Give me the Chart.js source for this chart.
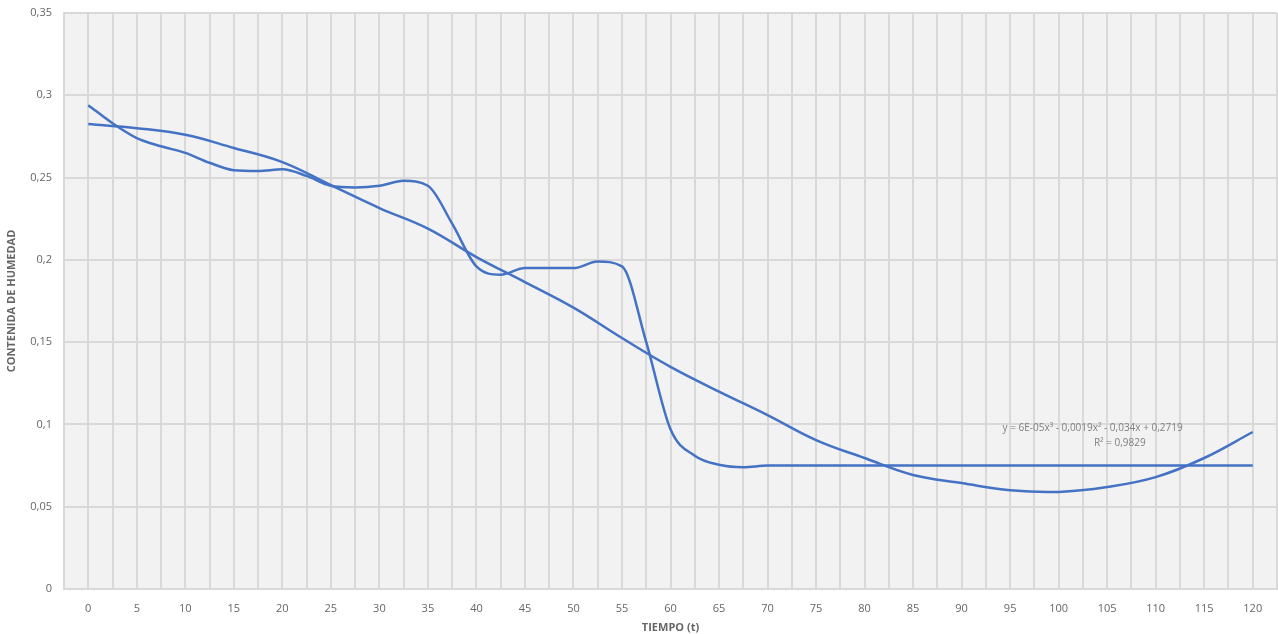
<!DOCTYPE html>
<html>
<head>
<meta charset="utf-8">
<script src="https://cdn.jsdelivr.net/npm/chart.js@4"></script>
<style>
  html, body { margin: 0; padding: 0; background: #fff; }
  #wrap { width: 1278px; height: 634px; }
</style>
</head>
<body>
<div id="wrap"><canvas id="myChart"></canvas></div>
<script>
// datos medidos (tiempo, contenido de humedad)
const tiempos = [0, 2.5, 5, 7.5, 10, 12.5, 15, 17.5, 20, 22.5, 25, 27.5, 30, 32.5, 35, 37.5, 40, 42.5,
  45, 47.5, 50, 52.5, 55, 57.5, 60, 62.5, 65, 67.5, 70, 75, 80, 85, 90, 95, 100, 105, 110, 115, 120];
const humedad = [0.294, 0.283, 0.274, 0.269, 0.265, 0.259, 0.2545, 0.254, 0.255, 0.251, 0.245, 0.244, 0.245, 0.248, 0.245, 0.222, 0.196, 0.191,
  0.195, 0.195, 0.195, 0.199, 0.196, 0.150, 0.097, 0.081, 0.0755, 0.074, 0.075, 0.075, 0.075, 0.075, 0.075, 0.075, 0.075, 0.075, 0.075, 0.075, 0.075];

// linea de tendencia polinomica
const tiemposTend = [0, 5, 10, 15, 20, 25, 30, 35, 40, 45, 50, 55, 60, 65, 70, 75, 80, 85, 90, 95, 100, 105, 110, 115, 120];
const tendencia = [0.2825, 0.280, 0.276, 0.268, 0.2594, 0.2454, 0.2315, 0.219, 0.2017, 0.1865, 0.171, 0.1525, 0.135, 0.120, 0.1057,
  0.0905, 0.0796, 0.0693, 0.0644, 0.060, 0.059, 0.062, 0.068, 0.0796, 0.0954];

const ecuacion = "y = 6E-05x³ - 0,0019x² - 0,034x + 0,2719";
const r2 = "R² = 0,9829";

const azul = "#4472C4";
const gris = "#D9D9D9";
const texto = "#666666";
const fuente = "'Open Sans', sans-serif";

const fondoPlot = {
  id: 'fondoPlot',
  beforeDraw(chart) {
    const a = chart.chartArea;
    const ctx = chart.ctx;
    ctx.save();
    ctx.fillStyle = "#F2F2F2";
    ctx.fillRect(a.left, a.top, a.right - a.left, a.bottom - a.top);
    ctx.restore();
  },
  afterDatasetsDraw(chart) {
    const ctx = chart.ctx;
    const sx = chart.scales.x, sy = chart.scales.y;
    ctx.save();
    ctx.fillStyle = "#808080";
    ctx.font = "10px " + fuente;
    ctx.textAlign = "center";
    ctx.textBaseline = "middle";
    ctx.fillText(ecuacion, sx.getPixelForValue(103.5), sy.getPixelForValue(0.0978));
    ctx.fillText(r2, sx.getPixelForValue(106.3), sy.getPixelForValue(0.0887));
    ctx.restore();
  }
};

new Chart("myChart", {
  type: "line",
  data: {
    datasets: [{
      data: tiempos.map((t, i) => ({ x: t, y: humedad[i] })),
      borderColor: azul,
      borderWidth: 2.5,
      pointRadius: 0,
      cubicInterpolationMode: 'monotone'
    }, {
      data: tiemposTend.map((t, i) => ({ x: t, y: tendencia[i] })),
      borderColor: azul,
      borderWidth: 2.5,
      pointRadius: 0,
      tension: 0.4
    }]
  },
  options: {
    responsive: true,
    maintainAspectRatio: false,
    animation: false,
    layout: { padding: { top: 13, right: 1, left: 0, bottom: 0 } },
    plugins: { legend: { display: false }, tooltip: { enabled: false } },
    scales: {
      x: {
        type: 'linear',
        min: -2.5,
        max: 122.5,
        grid: { color: gris, lineWidth: 2, drawTicks: false },
        border: { color: gris, width: 2 },
        ticks: {
          stepSize: 2.5,
          autoSkip: false,
          maxRotation: 0,
          padding: 13,
          color: texto,
          font: { size: 11, family: fuente },
          callback: (v) => (v >= 0 && v <= 120 && Math.abs(v % 5) < 1e-6) ? String(Math.round(v)) : ''
        },
        title: {
          display: true,
          text: "TIEMPO (t)",
          color: texto,
          font: { size: 11, weight: 'bold', family: fuente },
          padding: { top: 0, bottom: 0 }
        },
        afterFit(scale) {
          scale.height = 45;
          scale.paddingLeft = 0;
          scale.paddingRight = 0;
        }
      },
      y: {
        min: 0,
        max: 0.35,
        grid: { color: gris, lineWidth: 2, drawTicks: false },
        border: { color: gris, width: 2 },
        ticks: {
          stepSize: 0.05,
          padding: 12,
          color: texto,
          font: { size: 11, family: fuente },
          callback: (v) => String(Number(v.toFixed(2))).replace('.', ',')
        },
        title: {
          display: true,
          text: "CONTENIDA DE HUMEDAD",
          color: texto,
          font: { size: 11, weight: 'bold', family: fuente },
          padding: { top: 5, bottom: 0 }
        },
        afterFit(scale) {
          scale.width = 64;
          scale.paddingTop = 0;
          scale.paddingBottom = 0;
        }
      }
    }
  },
  plugins: [fondoPlot]
});
</script>
</body>
</html>
